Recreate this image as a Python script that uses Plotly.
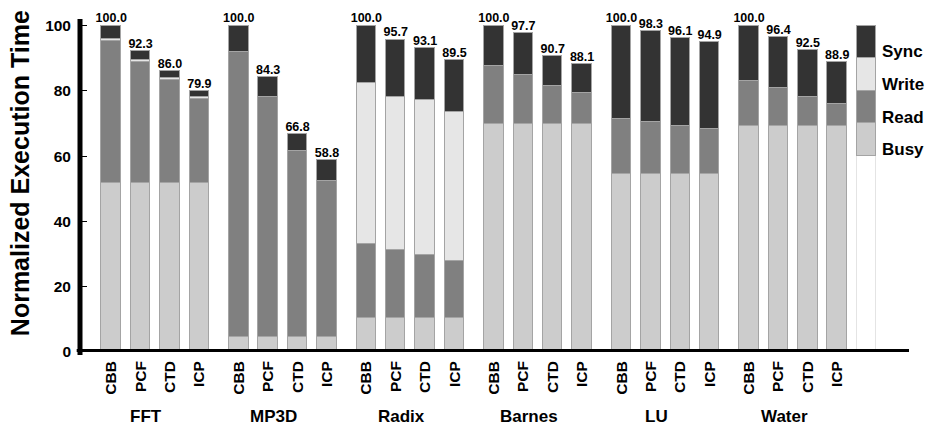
import plotly.graph_objects as go

# Benchmarks and coherence schemes
benchmarks = ["FFT", "MP3D", "Radix", "Barnes", "LU", "Water"]
schemes = ["CBB", "PCF", "CTD", "ICP"]

# Normalized execution time (total per bar, printed above each bar)
total = [
    100.0, 92.3, 86.0, 79.9,
    100.0, 84.3, 66.8, 58.8,
    100.0, 95.7, 93.1, 89.5,
    100.0, 97.7, 90.7, 88.1,
    100.0, 98.3, 96.1, 94.9,
    100.0, 96.4, 92.5, 88.9,
]

# Breakdown components
busy = [
    51.7, 51.7, 51.7, 51.7,
    4.5, 4.5, 4.5, 4.5,
    10.3, 10.3, 10.3, 10.3,
    69.7, 69.7, 69.7, 69.7,
    54.6, 54.6, 54.6, 54.6,
    69.1, 69.1, 69.1, 69.1,
]
read = [
    43.5, 37.2, 31.7, 25.9,
    87.3, 73.7, 57.1, 47.9,
    22.8, 20.8, 19.5, 17.7,
    17.9, 15.2, 11.7, 9.6,
    16.8, 15.7, 14.6, 13.7,
    13.9, 11.8, 9.0, 6.9,
]
write = [
    0.8, 0.5, 0.5, 0.5,
    0.0, 0.0, 0.0, 0.0,
    49.2, 46.9, 47.4, 45.6,
    0.0, 0.0, 0.0, 0.0,
    0.0, 0.0, 0.0, 0.0,
    0.0, 0.0, 0.0, 0.0,
]
# Sync fills the rest of each bar up to its total
sync = [round(t - b - r - w, 2) for t, b, r, w in zip(total, busy, read, write)]

# Stacked key drawn as an extra bar at the right end
key_names = ["Busy", "Read", "Write", "Sync"]
key_blank = 60
key_step = 10

colors = {"Busy": "#cccccc", "Read": "#808080", "Write": "#e6e6e6", "Sync": "#333333"}

FONT = "Liberation Sans, Arial, sans-serif"
GROUP_STRIDE = 4.339  # bar slots per benchmark group, including the gap
BAR_WIDTH = 0.663

pos = [g * GROUP_STRIDE + j for g in range(len(benchmarks)) for j in range(len(schemes))]
key_x = (len(benchmarks) - 1) * GROUP_STRIDE + len(schemes)
xs = pos + [key_x]


def nz(vals):
    return [v if v > 0 else None for v in vals]


fig = go.Figure()

# white base of the key bar
fig.add_trace(go.Bar(
    x=xs, y=[None] * len(pos) + [key_blank], width=BAR_WIDTH,
    marker=dict(color="#ffffff", line=dict(color="#e4e4e4", width=1)),
    showlegend=False, hoverinfo="skip",
))

series = {"Busy": busy, "Read": read, "Write": write, "Sync": sync}
for name in key_names:
    fig.add_trace(go.Bar(
        x=xs, y=nz(series[name]) + [key_step], width=BAR_WIDTH, name=name,
        marker=dict(color=colors[name], line=dict(color="#a4a4a4", width=1)),
        showlegend=False,
    ))

# totals above bars
fig.add_trace(go.Scatter(
    x=pos, y=total, mode="text", text=[f"{t:.1f}" for t in total],
    textposition="top center",
    textfont=dict(family=FONT, size=12.5, color="black", weight="bold"),
    showlegend=False, hoverinfo="skip", cliponaxis=False,
))

annotations = []
# key labels, next to each key segment
for i, name in enumerate(key_names):
    annotations.append(dict(
        x=key_x + BAR_WIDTH / 2, y=key_blank + key_step * i + 1.9,
        xref="x", yref="y", text=name, showarrow=False,
        xanchor="left", yanchor="middle", xshift=4,
        font=dict(family=FONT, size=17, color="black", weight="bold"),
    ))

# benchmark names under each group
for g, name in enumerate(benchmarks):
    annotations.append(dict(
        x=g * GROUP_STRIDE + 1.5, y=-0.194, xref="x", yref="paper",
        text=name, showarrow=False, xanchor="center", yanchor="middle", xshift=-9,
        font=dict(family=FONT, size=17, color="black", weight="bold"),
    ))

# y axis title
annotations.append(dict(
    x=-0.0724, y=0.537, xref="paper", yref="paper", text="Normalized Execution Time",
    textangle=-90, showarrow=False, xanchor="center", yanchor="middle",
    font=dict(family=FONT, size=25, color="black", weight="bold"),
))

shapes = [
    # thick axis lines
    dict(type="line", xref="paper", yref="paper", x0=0, x1=0, y0=-0.009, y1=1,
         line=dict(color="black", width=5), layer="above"),
    dict(type="line", xref="paper", yref="y", x0=-0.004, x1=1, y0=0, y1=0,
         line=dict(color="black", width=6), layer="above"),
]

fig.update_layout(
    width=929, height=428,
    margin=dict(l=80, r=20, t=19, b=76),
    barmode="stack",
    bargap=0,
    plot_bgcolor="white", paper_bgcolor="white",
    font=dict(family=FONT, color="black"),
    annotations=annotations, shapes=shapes,
    xaxis=dict(
        range=[-1.061, 27.136], tickmode="array", tickvals=pos,
        ticktext=schemes * len(benchmarks), tickangle=-90,
        tickfont=dict(family=FONT, size=15.5, color="black", weight="bold"),
        showgrid=False, zeroline=False, showline=False, ticks="",
        ticklabelstandoff=5,
    ),
    yaxis=dict(
        range=[0, 102], tickvals=[0, 20, 40, 60, 80, 100],
        tickfont=dict(family=FONT, size=15.5, color="black", weight="bold"),
        showgrid=False, zeroline=False, showline=False,
        ticks="inside", ticklen=7, tickwidth=1, tickcolor="black",
        ticklabelstandoff=8,
    ),
)

fig.write_html("out.html")
